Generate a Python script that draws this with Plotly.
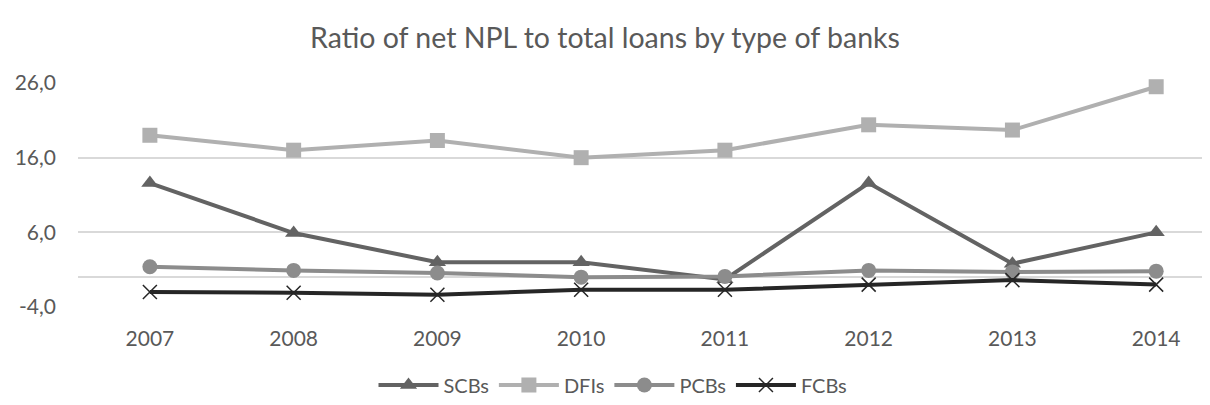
import plotly.graph_objects as go

years = ["2007", "2008", "2009", "2010", "2011", "2012", "2013", "2014"]
scbs = [12.6, 5.9, 2.0, 2.0, -0.3, 12.6, 1.8, 6.0]
dfis = [19.0, 17.0, 18.3, 16.0, 17.0, 20.4, 19.7, 25.5]
pcbs = [1.4, 0.9, 0.55, 0.0, 0.1, 0.9, 0.7, 0.8]
fcbs = [-2.0, -2.1, -2.35, -1.7, -1.7, -1.0, -0.4, -1.0]
y_ticks = [-4, 6, 16, 26]
y_tick_labels = ["-4,0", "6,0", "16,0", "26,0"]

FONT = "Lato, 'Open Sans', sans-serif"
TXT = "#595959"

fig = go.Figure()
fig.add_trace(go.Scatter(x=years, y=scbs, name="SCBs", mode="lines+markers",
                         line=dict(color="#636363", width=4),
                         marker=dict(symbol="triangle-up", size=15, color="#636363")))
fig.add_trace(go.Scatter(x=years, y=dfis, name="DFIs", mode="lines+markers",
                         line=dict(color="#b0b0b0", width=4),
                         marker=dict(symbol="square", size=15, color="#b0b0b0")))
fig.add_trace(go.Scatter(x=years, y=pcbs, name="PCBs", mode="lines+markers",
                         line=dict(color="#8c8c8c", width=4),
                         marker=dict(symbol="circle", size=15, color="#8c8c8c")))
fig.add_trace(go.Scatter(x=years, y=fcbs, name="FCBs", mode="lines+markers",
                         line=dict(color="#262626", width=4),
                         marker=dict(symbol="x-thin", size=14,
                                     line=dict(color="#262626", width=1.5))))

fig.update_traces(cliponaxis=False)

fig.update_layout(
    width=1210, height=405,
    margin=dict(l=70, r=0, t=75, b=106),
    paper_bgcolor="white", plot_bgcolor="white",
    font=dict(family=FONT, color=TXT, size=21),
    title=dict(text="Ratio of net NPL to total loans by type of banks",
               x=597 / 1210, xref="container", xanchor="center",
               yref="container", y=1 - 30 / 405, yanchor="middle",
               font=dict(size=28.5, color=TXT, family=FONT)),
    xaxis=dict(type="category", range=[-0.5, 7.43], showgrid=False,
               showline=False, ticks="", tickfont=dict(size=21, color=TXT),
               ticklabelstandoff=17),
    yaxis=dict(range=[-4, 26], tickvals=y_ticks, ticktext=y_tick_labels,
               showgrid=True, gridcolor="#d9d9d9", gridwidth=1.5,
               zeroline=True, zerolinecolor="#d9d9d9", zerolinewidth=1.5,
               showline=False, ticks="", ticklabelstandoff=21,
               tickfont=dict(size=21, color=TXT)),
    legend=dict(orientation="h", x=0.5, xanchor="center", xref="container",
                yref="container", y=28 / 405, yanchor="middle",
                font=dict(size=20, color=TXT), itemwidth=60),
    showlegend=True,
)

fig.write_html("out.html")
